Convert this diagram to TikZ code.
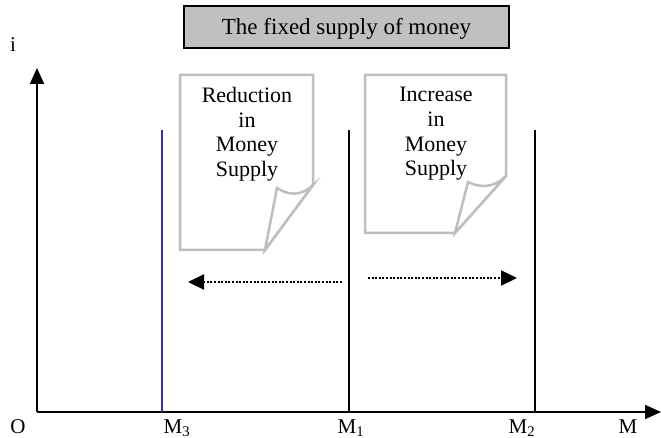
\documentclass[tikz,border=0pt]{standalone}
\usepackage{fontspec}
\setmainfont{Liberation Serif}
\usetikzlibrary{arrows.meta}
\definecolor{boxgray}{RGB}{192,192,192}
\definecolor{notegray}{RGB}{190,190,190}
\definecolor{lineblue}{RGB}{51,51,153}
\begin{document}
\begin{tikzpicture}[x=1pt,y=-1pt,
  txt/.style={font=\fontsize{22}{24.7}\selectfont, inner sep=0pt},
  axis/.style={line width=2pt, -{Triangle[length=16pt,width=14pt]}},
  supply/.style={line width=2pt},
  note/.style={draw=notegray, line width=2.5pt, line join=miter, fill=white},
  shiftarrow/.style={line width=2.2pt, dash pattern=on 2pt off 1.6pt, -{Triangle[length=16pt,width=15pt]}},
  lbl/.style={font=\fontsize{21}{24}\selectfont, inner sep=0pt, anchor=base}
]
\useasboundingbox (0,0) rectangle (661,438);
% title
\node[draw, line width=2pt, fill=boxgray, minimum width=325pt, minimum height=42pt, anchor=north west, inner sep=0pt] (title) at (183,5) {};
\node[txt, font=\fontsize{23}{26}\selectfont] (titletxt) at ([yshift=-2pt]title.center) {The fixed supply of money};
% axes
\coordinate (O) at (37,412);
\coordinate (ytop) at (37,68);
\coordinate (xend) at (661,412);
\draw[axis] (O) -- (ytop);
\draw[axis] (O) -- (xend);
\node[lbl] (ilbl) at (13,52) {i};
\node[lbl] (olbl) at (18,433) {O};
\node[lbl] (m3lbl) at (177,433) {M\textsubscript{3}};
\node[lbl] (m1lbl) at (351,433) {M\textsubscript{1}};
\node[lbl] (m2lbl) at (522,433) {M\textsubscript{2}};
\node[lbl] (mlbl) at (628,433) {M};
% supply lines
\coordinate (m3t) at (162,130); \coordinate (m3b) at (162,412);
\coordinate (m1t) at (349,130); \coordinate (m1b) at (349,412);
\coordinate (m2t) at (535,130); \coordinate (m2b) at (535,412);
\draw[supply, lineblue] (m3t) -- (m3b);
\draw[supply] (m1t) -- (m1b);
\draw[supply] (m2t) -- (m2b);
% left note
\draw[note] (313,185) -- (313,75) -- (180,75) -- (180,250) -- (265,250) -- cycle;
\draw[note] (313,185) .. controls (300,197) and (288,195) .. (277,188) -- (265,250) -- cycle;
\node[txt, align=center, anchor=north] (lnote) at (247,87) {Reduction\\in\\Money\\Supply};
% right note
\draw[note] (506,176) -- (506,75) -- (365,75) -- (365,233) -- (455,233) -- cycle;
\draw[note] (506,176) .. controls (494,188) and (480,188) .. (468,182) -- (455,233) -- cycle;
\node[txt, align=center, anchor=north] (rnote) at (436,87) {Increase\\in\\Money\\Supply};
% shift arrows
\coordinate (la1) at (342,282); \coordinate (la2) at (188,282);
\coordinate (ra1) at (368,278); \coordinate (ra2) at (517,278);
\draw[shiftarrow] (la1) -- (la2);
\draw[shiftarrow] (ra1) -- (ra2);
\end{tikzpicture}
\end{document}
